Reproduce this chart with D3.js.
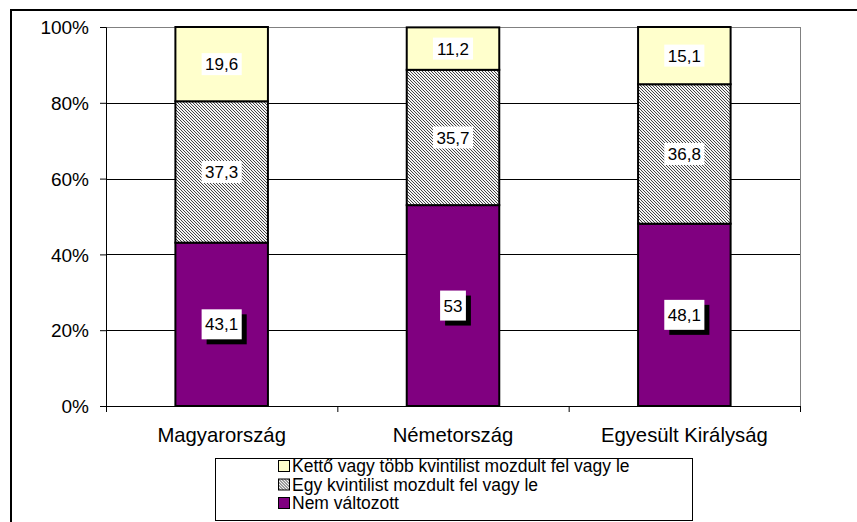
<!DOCTYPE html>
<html><head><meta charset="utf-8">
<script src="https://cdn.jsdelivr.net/npm/d3@7"></script>
<style>body{margin:0;background:#fff}svg{display:block;font-family:Arial,"Liberation Sans",sans-serif}</style>
</head><body>
<svg id="c" width="857" height="522"></svg>
<script>
const categories = ["Magyarország", "Németország", "Egyesült Királyság"];
const seriesNames = ["Nem változott", "Egy kvintilist mozdult fel vagy le", "Kettő vagy több kvintilist mozdult fel vagy le"];
const nemValtozott = [43.1, 53, 48.1];
const egyKvintilis = [37.3, 35.7, 36.8];
const kettoVagyTobb = [19.6, 11.2, 15.1];
const labelsNem = ["43,1", "53", "48,1"];
const labelsEgy = ["37,3", "35,7", "36,8"];
const labelsKetto = ["19,6", "11,2", "15,1"];
const yTicks = [0, 20, 40, 60, 80, 100];

const svg = d3.select("#c");
const defs = svg.append("defs");
const pat = defs.append("pattern").attr("id","hatch").attr("patternUnits","userSpaceOnUse")
  .attr("width",3).attr("height",3);
pat.append("rect").attr("width",3).attr("height",3).attr("fill","#f4f4f4");
pat.append("path").attr("d","M-1,-1 L4,4 M-1,2 L1,4 M2,-1 L4,1").attr("stroke","#444").attr("stroke-width",1);

// outer frame
svg.append("rect").attr("x",11).attr("y",10).attr("width",900).attr("height",600)
  .attr("fill","none").attr("stroke","#000").attr("stroke-width",2);

const L = 106, R = 800, T = 27, B = 406;
const x = d3.scaleBand().domain(categories).range([L, R]).paddingInner(0.6).paddingOuter(0.3);
const xb = d3.scaleBand().domain(categories).range([L, R]);
const y = d3.scaleLinear().domain([0, 100]).range([B, T]);

// gridlines
svg.append("g").selectAll("line").data(yTicks.filter(d=>d>0)).join("line")
  .attr("x1",L).attr("x2",R).attr("y1",d=>Math.round(y(d))+0.5).attr("y2",d=>Math.round(y(d))+0.5)
  .attr("stroke",d=>d===100?"#808080":"#000").attr("stroke-width",1);
svg.append("line").attr("x1",R+0.5).attr("x2",R+0.5).attr("y1",T).attr("y2",B)
  .attr("stroke","#808080");

// stacked data
const rows = categories.map((c,i)=>({cat:c, a:nemValtozott[i], b:egyKvintilis[i], c2:kettoVagyTobb[i]}));
const stack = d3.stack().keys(["a","b","c2"])(rows);
const fills = ["#800080","url(#hatch)","#FFFFCC"];
const labs = [labelsNem, labelsEgy, labelsKetto];

stack.forEach((s,k)=>{
  svg.append("g").selectAll("rect").data(s).join("rect")
    .attr("x",d=>x(d.data.cat)).attr("width",x.bandwidth())
    .attr("y",d=>y(d[1])).attr("height",d=>y(d[0])-y(d[1]))
    .attr("fill",fills[k]).attr("stroke","#000").attr("stroke-width",2);
});

// axes
const yAxis = svg.append("g").attr("transform",`translate(${L},0)`)
  .call(d3.axisLeft(y).tickValues(yTicks).tickSize(6).tickFormat(d=>d+"%"));
yAxis.select(".domain").attr("stroke","#000");
yAxis.selectAll("text").attr("font-size",19).attr("fill","#000").attr("x",-17).attr("dy","0.35em");
yAxis.selectAll(".tick line").attr("stroke","#000");

svg.append("line").attr("x1",L).attr("x2",R).attr("y1",B+0.5).attr("y2",B+0.5).attr("stroke","#000");
const bounds = categories.map(c=>xb(c)).concat([R]);
svg.append("g").selectAll("line").data(bounds).join("line")
  .attr("x1",d=>d+0.5).attr("x2",d=>d+0.5).attr("y1",B).attr("y2",B+6).attr("stroke","#000");
svg.append("g").selectAll("text").data(categories).join("text")
  .attr("x",d=>xb(d)+xb.bandwidth()/2).attr("y",442).attr("text-anchor","middle")
  .attr("font-size",20.3).text(d=>d);

// data labels
stack.forEach((s,k)=>{
  const g = svg.append("g");
  s.forEach((d,i)=>{
    const cx = x(d.data.cat)+x.bandwidth()/2;
    const cy = (y(d[0])+y(d[1]))/2;
    const t = labs[k][i];
    const tw = t.length*9.4 - (t.includes(",")?4.5:0);
    const w = tw+7, h = k===0?30:22;
    if(k===0){
      g.append("rect").attr("x",cx-w/2+5).attr("y",cy-h/2+5).attr("width",w).attr("height",h).attr("fill","#000");
    }
    g.append("rect").attr("x",cx-w/2).attr("y",cy-h/2).attr("width",w).attr("height",h).attr("fill","#fff");
    g.append("text").attr("x",cx).attr("y",cy).attr("dy","0.36em").attr("text-anchor","middle")
      .attr("font-size",17).text(t);
  });
});

// legend
svg.append("rect").attr("x",215.5).attr("y",458.5).attr("width",477).attr("height",62)
  .attr("fill","#fff").attr("stroke","#000");
const legOrder = [2,1,0];
const lg = svg.append("g").selectAll("g").data(legOrder).join("g")
  .attr("transform",(d,i)=>`translate(278,${466+i*18.5})`);
lg.append("rect").attr("x",0.5).attr("y",-5.5).attr("width",11).attr("height",11)
  .attr("fill",d=>fills[d]).attr("stroke","#000");
lg.append("text").attr("x",14).attr("y",0).attr("dy","0.36em").attr("font-size",17.5)
  .text(d=>seriesNames[d]);
</script>
</body></html>
